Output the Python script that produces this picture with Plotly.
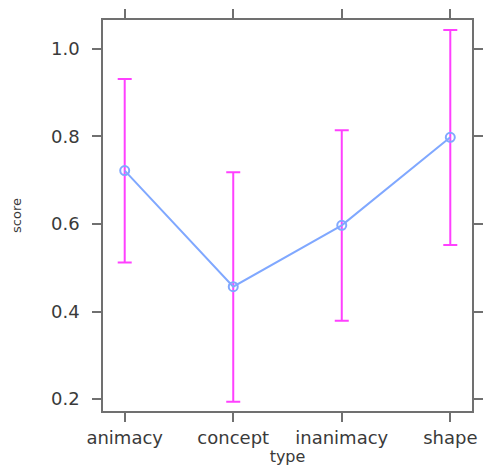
import plotly.graph_objects as go

categories = ["animacy", "concept", "inanimacy", "shape"]
score = [0.722, 0.457, 0.597, 0.798]
upper = [0.931, 0.718, 0.814, 1.043]
lower = [0.512, 0.194, 0.379, 0.552]
y_ticks = [0.2, 0.4, 0.6, 0.8, 1.0]
y_tick_labels = ["0.2", "0.4", "0.6", "0.8", "1.0"]

x_idx = list(range(len(categories)))
err_plus = [u - s for u, s in zip(upper, score)]
err_minus = [s - l for s, l in zip(score, lower)]

FONT = "DejaVu Sans, Liberation Sans, Arial, sans-serif"
TXT = "#3a3a3a"

fig = go.Figure()
fig.add_trace(go.Scatter(
    x=x_idx, y=score, mode="markers",
    marker=dict(size=1, color="rgba(0,0,0,0)"),
    error_y=dict(type="data", symmetric=False, array=err_plus, arrayminus=err_minus,
                 color="#ff40ff", thickness=2, width=7),
    hoverinfo="skip", showlegend=False,
))
fig.add_trace(go.Scatter(
    x=x_idx, y=score, mode="lines+markers",
    line=dict(color="#80a8ff", width=2),
    marker=dict(symbol="circle-open", size=9, color="#80a8ff", line=dict(width=2)),
    showlegend=False,
))

axis_common = dict(
    showline=True, linecolor="#707070", linewidth=1.5, mirror="ticks",
    ticks="outside", tickcolor="#707070", ticklen=9, tickwidth=1.5,
    showgrid=False, zeroline=False, automargin=False,
    tickfont=dict(family=FONT, size=18, color=TXT),
)

fig.update_layout(
    width=484, height=466,
    margin=dict(l=103, r=12, t=20, b=55),
    paper_bgcolor="white", plot_bgcolor="white",
    xaxis=dict(
        range=[-0.2, 3.2], tickmode="array", tickvals=x_idx, ticktext=categories,
        ticklabelstandoff=1,
        title=dict(text="type", standoff=0,
                   font=dict(family=FONT, size=16, color=TXT)),
        **axis_common,
    ),
    yaxis=dict(
        range=[0.173, 1.066], tickmode="array", tickvals=y_ticks, ticktext=y_tick_labels,
        ticklabelstandoff=9,
        title=dict(text="score", standoff=26,
                   font=dict(family=FONT, size=13, color=TXT)),
        **axis_common,
    ),
)

fig.write_html("out.html", config={"displayModeBar": False},
               post_script="document.body.style.margin='0';document.body.style.overflow='hidden';")
